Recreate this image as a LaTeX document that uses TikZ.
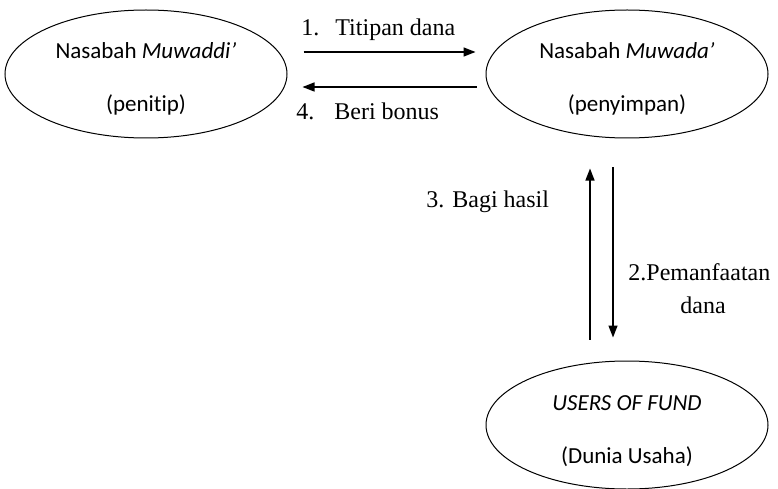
\documentclass[tikz,border=0pt]{standalone}
\usepackage{fontspec}
\setmainfont{Liberation Serif}
\newfontfamily\calibri[Ligatures=NoCommon]{Carlito}
\usetikzlibrary{shapes,shapes.geometric,arrows.meta,calc}

\begin{document}
\begin{tikzpicture}
	[x=1pt,y=-1pt,-,thick,every node/.style={inner sep=0pt},
	oval/.style={shape=ellipse,draw,line width=1pt,minimum width=282pt,
		minimum height=128pt,align=center,font=\calibri\fontsize{23}{53}\selectfont},
	lbl/.style={anchor=base west,font=\fontsize{24}{30}\selectfont},
	arr/.style={-{Triangle[length=12pt,width=9pt]},line width=1.4pt}]
	\useasboundingbox (0,0) rectangle (778,489);
	\node[oval] (muwaddi) at (146,74) {\rule{0pt}{26pt}Nasabah \textit{Muwaddi’}\\(penitip)};
	\node[oval] (muwada) at (627,74) {\rule{0pt}{26pt}Nasabah \textit{Muwada’}\\(penyimpan)};
	\node[oval] (users) at (627,425) {\rule{0pt}{27pt}\textit{USERS OF FUND}\\(Dunia Usaha)};
	
	\node[lbl] (l1) at (301,36) {1.\hspace{16pt}Titipan dana};
	\node[lbl] (l4) at (296,120) {4.\hspace{20pt}Beri bonus};
	\node[lbl] (l3) at (426,207) {3. Bagi hasil};
	\node[lbl] (l2) at (628,280) {2.Pemanfaatan};
	\node[lbl,anchor=base] (l2b) at (703,313) {dana};
	
	\draw[arr] ([xshift=16pt,yshift=22pt]muwaddi.east) -- ([xshift=-10pt,yshift=22pt]muwada.west);
	\draw[arr] ([xshift=-9pt,yshift=-13pt]muwada.west) -- ([xshift=15pt,yshift=-13pt]muwaddi.east);
	\draw[arr] ([xshift=-37pt,yshift=21pt]users.north) -- ([xshift=-37pt,yshift=-30pt]muwada.south);
	\draw[arr] ([xshift=-14pt,yshift=-29pt]muwada.south) -- ([xshift=-14pt,yshift=23pt]users.north);
\end{tikzpicture}
\end{document}
